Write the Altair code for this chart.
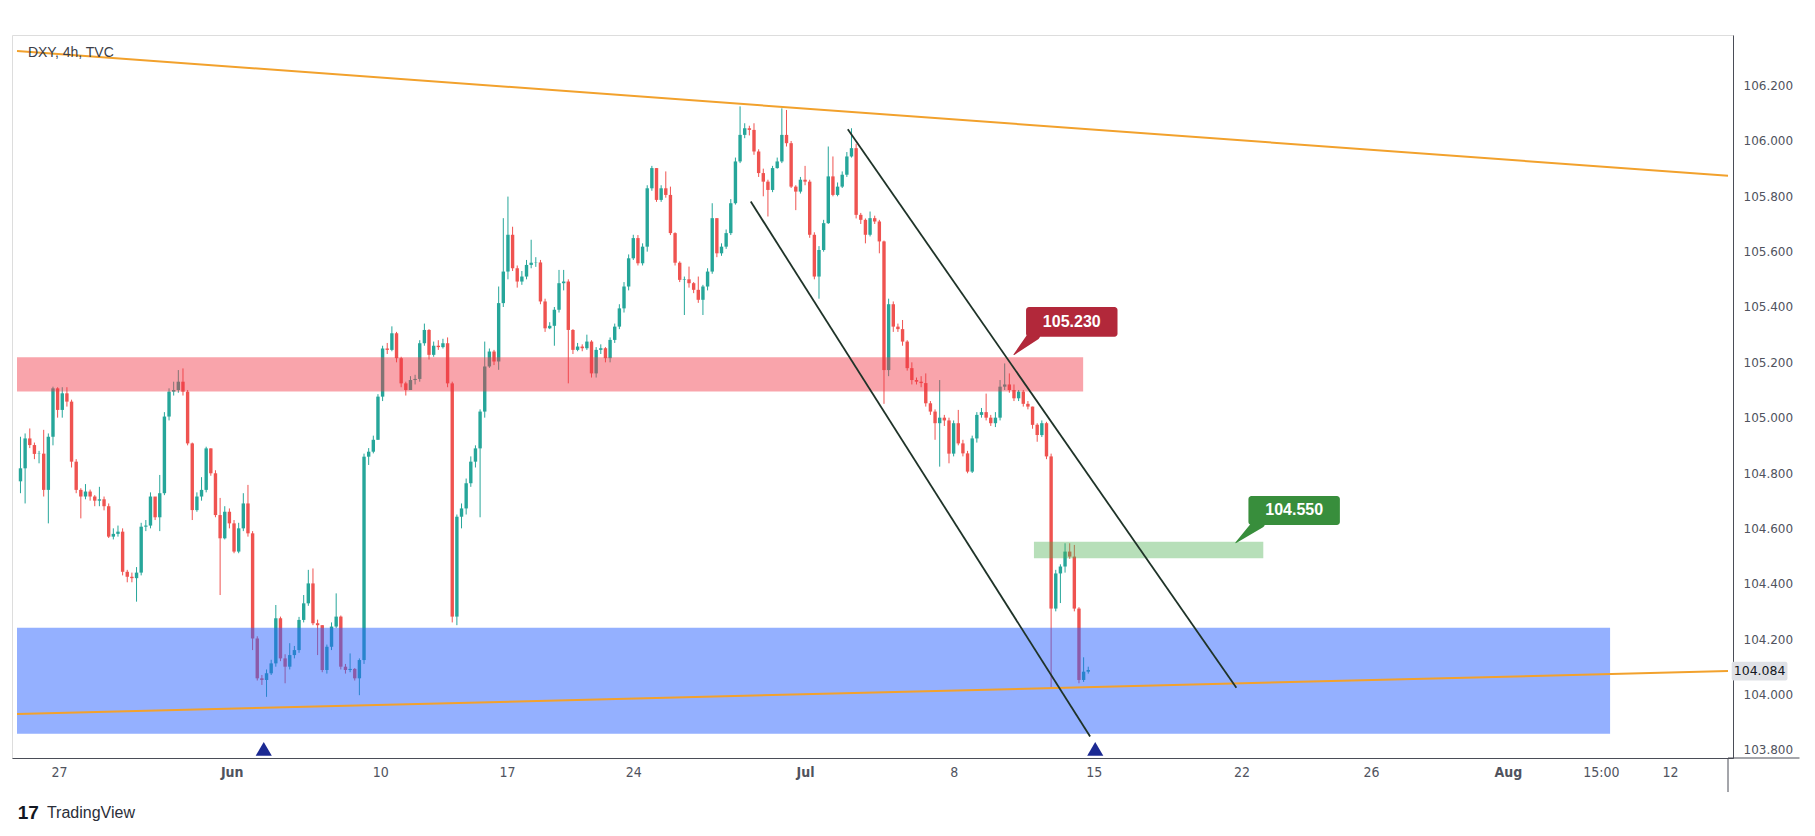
import altair as alt
import pandas as pd

# ---------------- data ----------------
FIRST_OPEN = 104.77

closes = [
    104.817, 104.925, 104.901, 104.869, 104.870, 104.739, 104.931, 105.106, 105.028, 105.088,
    105.058, 104.841, 104.739, 104.715, 104.733, 104.715, 104.700, 104.705, 104.680, 104.570,
    104.580, 104.588, 104.443, 104.425, 104.420, 104.440, 104.606, 104.610, 104.715, 104.640,
    104.727, 105.004, 105.094, 105.100, 105.130, 105.094, 104.907, 104.666, 104.715, 104.739,
    104.889, 104.799, 104.648, 104.564, 104.660, 104.618, 104.516, 104.600, 104.690, 104.582,
    104.202, 104.058, 104.052, 104.076, 104.112, 104.275, 104.130, 104.100, 104.142, 104.160,
    104.269, 104.329, 104.401, 104.257, 104.250, 104.088, 104.172, 104.245, 104.281, 104.100,
    104.088, 104.092, 104.058, 104.124, 104.859, 104.877, 104.920, 105.076, 105.250, 105.245,
    105.305, 105.215, 105.124, 105.100, 105.136, 105.140, 105.269, 105.317, 105.227, 105.260,
    105.255, 105.269, 105.124, 104.281, 104.642, 104.672, 104.763, 104.841, 104.889, 105.022,
    105.185, 105.239, 105.203, 105.414, 105.528, 105.661, 105.540, 105.492, 105.510, 105.552,
    105.560, 105.561, 105.420, 105.323, 105.332, 105.390, 105.486, 105.492, 105.317, 105.245,
    105.257, 105.251, 105.275, 105.160, 105.245, 105.251, 105.215, 105.281, 105.329, 105.395,
    105.474, 105.576, 105.649, 105.558, 105.618, 105.829, 105.902, 105.787, 105.829, 105.805,
    105.667, 105.560, 105.498, 105.500, 105.486, 105.462, 105.426, 105.474, 105.528, 105.721,
    105.594, 105.618, 105.667, 105.775, 105.926, 106.022, 106.046, 106.040, 105.962, 105.884,
    105.853, 105.823, 105.902, 105.926, 106.022, 105.992, 105.835, 105.817, 105.860, 105.853,
    105.661, 105.510, 105.606, 105.703, 105.872, 105.805, 105.835, 105.878, 105.944, 105.974,
    105.733, 105.715, 105.661, 105.721, 105.709, 105.637, 105.172, 105.410, 105.329, 105.320,
    105.275, 105.179, 105.136, 105.130, 105.125, 105.052, 105.022, 104.980, 105.000, 104.990,
    104.870, 104.980, 104.907, 104.871, 104.805, 104.925, 105.010, 105.020, 105.000, 104.980,
    105.000, 105.112, 105.120, 105.100, 105.070, 105.094, 105.050, 105.040, 104.974, 104.937,
    104.980, 104.860, 104.310, 104.437, 104.462, 104.516, 104.498, 104.310, 104.052, 104.082,
    104.088,
]

highs = [
    104.931, 104.943, 104.961, 104.910, 104.880, 104.956, 104.943, 105.112, 105.110, 105.110,
    105.110, 105.065, 104.850, 104.745, 104.760, 104.740, 104.720, 104.750, 104.715, 104.690,
    104.600, 104.610, 104.600, 104.450, 104.440, 104.460, 104.620, 104.630, 104.730, 104.710,
    104.793, 105.020, 105.106, 105.130, 105.172, 105.178, 105.100, 104.910, 104.730, 104.785,
    104.895, 104.889, 104.810, 104.710, 104.680, 104.672, 104.630, 104.620, 104.727, 104.757,
    104.590, 104.210, 104.070, 104.090, 104.125, 104.323, 104.281, 104.145, 104.185, 104.175,
    104.280, 104.359, 104.450, 104.455, 104.270, 104.250, 104.180, 104.260, 104.365, 104.285,
    104.110, 104.148, 104.095, 104.130, 104.870, 104.890, 104.935, 105.085, 105.260, 105.270,
    105.330, 105.310, 105.220, 105.130, 105.150, 105.155, 105.280, 105.340, 105.320, 105.275,
    105.280, 105.285, 105.290, 105.130, 104.650, 104.690, 104.780, 104.860, 104.900, 105.030,
    105.275, 105.250, 105.245, 105.474, 105.721, 105.799, 105.690, 105.550, 105.530, 105.570,
    105.643, 105.580, 105.570, 105.430, 105.345, 105.400, 105.534, 105.534, 105.500, 105.320,
    105.270, 105.265, 105.300, 105.280, 105.255, 105.265, 105.255, 105.290, 105.340, 105.410,
    105.490, 105.590, 105.661, 105.660, 105.630, 105.840, 105.910, 105.902, 105.840, 105.890,
    105.835, 105.670, 105.565, 105.510, 105.546, 105.490, 105.510, 105.480, 105.540, 105.775,
    105.721, 105.630, 105.680, 105.790, 105.940, 106.125, 106.064, 106.055, 106.064, 105.970,
    105.900, 105.860, 105.910, 105.940, 106.118, 106.112, 106.000, 105.840, 105.870, 105.910,
    105.860, 105.670, 105.620, 105.715, 105.980, 105.944, 105.850, 105.890, 105.960, 106.046,
    105.990, 105.740, 105.720, 105.745, 105.730, 105.715, 105.640, 105.430, 105.420, 105.340,
    105.353, 105.280, 105.200, 105.145, 105.150, 105.160, 105.060, 105.030, 105.136, 105.010,
    105.000, 104.990, 105.028, 104.920, 104.880, 104.935, 105.020, 105.035, 105.087, 105.010,
    105.020, 105.136, 105.196, 105.160, 105.120, 105.100, 105.100, 105.060, 105.040, 104.980,
    104.990, 104.985, 104.870, 104.450, 104.470, 104.546, 104.546, 104.540, 104.315, 104.134,
    104.100,
]

lows = [
    104.727, 104.690, 104.890, 104.850, 104.835, 104.715, 104.618, 104.900, 105.000, 105.000,
    105.040, 104.820, 104.727, 104.636, 104.705, 104.700, 104.680, 104.680, 104.665, 104.565,
    104.560, 104.570, 104.430, 104.405, 104.405, 104.335, 104.430, 104.590, 104.600, 104.630,
    104.590, 104.720, 104.990, 105.080, 105.090, 105.080, 104.900, 104.630, 104.660, 104.700,
    104.730, 104.790, 104.640, 104.359, 104.560, 104.600, 104.510, 104.510, 104.590, 104.570,
    104.160, 104.050, 104.034, 103.991, 104.070, 104.100, 104.120, 104.040, 104.090, 104.130,
    104.150, 104.260, 104.320, 104.250, 104.142, 104.080, 104.075, 104.160, 104.240, 104.090,
    104.075, 104.080, 104.050, 103.997, 104.110, 104.829, 104.871, 104.920, 105.060, 105.230,
    105.240, 105.200, 105.110, 105.080, 105.100, 105.120, 105.130, 105.260, 105.210, 105.220,
    105.245, 105.250, 105.110, 104.260, 104.250, 104.600, 104.650, 104.750, 104.820, 104.640,
    105.000, 105.180, 105.190, 105.173, 105.400, 105.500, 105.530, 105.470, 105.480, 105.500,
    105.540, 105.545, 105.410, 105.310, 105.320, 105.260, 105.380, 105.460, 105.124, 105.230,
    105.240, 105.240, 105.245, 105.145, 105.145, 105.230, 105.200, 105.200, 105.270, 105.320,
    105.380, 105.460, 105.570, 105.550, 105.550, 105.600, 105.820, 105.780, 105.780, 105.795,
    105.660, 105.550, 105.490, 105.371, 105.470, 105.450, 105.415, 105.371, 105.460, 105.520,
    105.580, 105.585, 105.610, 105.660, 105.770, 105.920, 106.010, 106.020, 105.950, 105.870,
    105.800, 105.727, 105.815, 105.900, 105.920, 105.980, 105.830, 105.750, 105.810, 105.840,
    105.650, 105.500, 105.430, 105.600, 105.700, 105.800, 105.800, 105.830, 105.870, 105.940,
    105.720, 105.700, 105.630, 105.655, 105.700, 105.594, 105.050, 105.150, 105.310, 105.310,
    105.260, 105.170, 105.120, 105.120, 105.110, 105.040, 105.010, 104.920, 104.823, 104.970,
    104.835, 104.860, 104.900, 104.860, 104.799, 104.800, 104.910, 105.000, 104.990, 104.970,
    104.966, 104.990, 105.100, 105.090, 105.060, 105.060, 105.040, 105.030, 104.960, 104.913,
    104.930, 104.850, 104.022, 104.300, 104.330, 104.440, 104.490, 104.300, 104.040, 104.045,
    104.075,
]

# x axis (bar index positions of the date labels)
x_ticks = [8.3, 45.5, 77.5, 104.8, 132.0, 169.0, 201.0, 231.2, 263.0, 290.9, 320.4, 340.4, 355.3]
x_tick_labels = ["27", "Jun", "10", "17", "24", "Jul", "8", "15", "22", "26", "Aug", "15:00", "12"]
month_ticks = [45.5, 169.0, 320.4]

# y axis
y_ticks = [103.8, 104.0, 104.2, 104.4, 104.6, 104.8, 105.0, 105.2, 105.4, 105.6, 105.8, 106.0, 106.2]

# zones
zone_names = ["resistance", "mid", "support"]
zone_x_start = [-0.75, 218.3, -0.75]
zone_x_end = [228.9, 267.7, 342.4]
zone_low = [105.095, 104.492, 103.858]
zone_high = [105.218, 104.552, 104.241]

# trend lines
line_names = ["upper", "lower", "chan_low", "chan_high"]
line_x_start = [-0.75, -0.75, 157.3, 178.2]
line_y_start = [106.325, 103.929, 105.781, 106.042]
line_x_end = [367.8, 367.8, 230.4, 261.9]
line_y_end = [105.874, 104.084, 103.848, 104.024]

# markers
marker_x = [52.4, 231.5]
marker_y = [103.803, 103.803]

# callouts
callout_text = ["105.230", "104.550"]
callout_x0 = [216.6, 264.5]
callout_x1 = [236.3, 284.2]
callout_y0 = [105.292, 104.612]
callout_y1 = [105.400, 104.717]
tail_base_x = [218.4, 266.8]
tail_base_y = [105.300, 104.620]
tail_tip_x = [214.0, 261.8]
tail_tip_y = [105.228, 104.548]

last_price = 104.084
title_text = "DXY, 4h, TVC"

# ---------------- styling ----------------
UP = "#26a69a"
DOWN = "#ef5350"
AXIS_COL = "#4a4d57"
LABEL_COL = "#50535e"
X_DOMAIN = [-0.75, 367.8]
Y_DOMAIN = [103.770, 106.383]

XS = alt.Scale(domain=X_DOMAIN, nice=False, zero=False)
YS = alt.Scale(domain=Y_DOMAIN, nice=False, zero=False)

label_expr = "[" + ",".join(f"'{t}'" for t in x_tick_labels) + "][indexof([" + \
    ",".join(str(v) for v in x_ticks) + "], datum.value)]"
month_test = " || ".join(f"datum.value == {v}" for v in month_ticks)

XA = alt.Axis(values=x_ticks, labelExpr=label_expr, ticks=False, grid=False,
              domainColor=AXIS_COL, domainWidth=1, labelColor=LABEL_COL,
              labelFont="Liberation Sans Narrow, DejaVu Sans Condensed, Liberation Sans",
              labelFontSize=14, labelPadding=7, title=None, labelOverlap=False,
              labelFlush=False,
              labelFontWeight={"condition": {"test": month_test, "value": "bold"}, "value": "normal"})
YA = alt.Axis(orient="right", values=y_ticks, format=".3f", ticks=False, grid=False,
              domainColor=AXIS_COL, domainWidth=1, labelColor=LABEL_COL,
              labelFont="DejaVu Sans", labelFontSize=12, labelPadding=10, title=None,
              labelOverlap=False, labelFlush=False)


def X(f):
    return alt.X(f, type="quantitative", scale=XS, axis=XA)


def Y(f):
    return alt.Y(f, type="quantitative", scale=YS, axis=YA)


opens = [FIRST_OPEN] + closes[:-1]
candles = pd.DataFrame({"i": list(range(len(closes))), "open": opens, "close": closes,
                        "high": highs, "low": lows})
cond_color = alt.condition(alt.datum.close >= alt.datum.open, alt.value(UP), alt.value(DOWN))

wicks = alt.Chart(candles).mark_rule(strokeWidth=1).encode(
    x=X("i"), y=Y("low"), y2="high", color=cond_color)
bodies = alt.Chart(candles).mark_bar(size=3.4).encode(
    x=X("i"), y=Y("open"), y2="close", color=cond_color)

zones = pd.DataFrame({"name": zone_names, "x0": zone_x_start, "x1": zone_x_end,
                      "y0": zone_low, "y1": zone_high})
zone_style = {"resistance": ("#f23645", 0.45), "mid": ("#4caf50", 0.4), "support": ("#2962ff", 0.5)}
zone_layers = []
for nm in zone_names:
    col, op = zone_style[nm]
    zone_layers.append(
        alt.Chart(zones).transform_filter(alt.datum.name == nm)
        .mark_rect(color=col, opacity=op)
        .encode(x=X("x0"), x2="x1", y=Y("y0"), y2="y1"))

lines = pd.DataFrame({"name": line_names, "x0": line_x_start, "y0": line_y_start,
                      "x1": line_x_end, "y1": line_y_end})
orange = alt.Chart(lines).transform_filter("datum.name == 'upper' || datum.name == 'lower'") \
    .mark_rule(color="#f2a12c", strokeWidth=2).encode(x=X("x0"), y=Y("y0"), x2="x1", y2="y1")
channel = alt.Chart(lines).transform_filter("datum.name == 'chan_low' || datum.name == 'chan_high'") \
    .mark_rule(color="#1f3328", strokeWidth=1.8).encode(x=X("x0"), y=Y("y0"), x2="x1", y2="y1")

markers = alt.Chart(pd.DataFrame({"x": marker_x, "y": marker_y})).mark_point(
    shape="triangle-up", filled=True, color="#1c2a93", opacity=1, size=260, clip=False
).encode(x=X("x"), y=Y("y"))

callout_colors = ["#b2283a", "#388e3c"]
callouts = pd.DataFrame({"text": callout_text, "x0": callout_x0, "x1": callout_x1,
                         "y0": callout_y0, "y1": callout_y1,
                         "xc": [(a + b) / 2 for a, b in zip(callout_x0, callout_x1)],
                         "yc": [(a + b) / 2 for a, b in zip(callout_y0, callout_y1)]})
callout_layers = []
for k, t in enumerate(callout_text):
    tail = pd.DataFrame({"x": [tail_base_x[k], tail_tip_x[k]], "y": [tail_base_y[k], tail_tip_y[k]],
                         "w": [12, 1], "k": [0, 1]})
    callout_layers.append(
        alt.Chart(tail).mark_trail(color=callout_colors[k]).encode(
            x=X("x"), y=Y("y"), order="k:Q",
            size=alt.Size("w:Q", scale=alt.Scale(domain=[0, 20], range=[0, 20]), legend=None)))
    sub = callouts[callouts.text == t]
    callout_layers.append(
        alt.Chart(sub).mark_rect(color=callout_colors[k], cornerRadius=3).encode(
            x=X("x0"), x2="x1", y=Y("y0"), y2="y1"))
    callout_layers.append(
        alt.Chart(sub).mark_text(color="white", font="Liberation Sans", fontWeight="bold",
                                 fontSize=16, align="center", baseline="middle").encode(
            x=X("xc"), y=Y("yc"), text="text:N"))

title_layer = alt.Chart(pd.DataFrame({"x": [1.6], "y": [106.318], "t": [title_text]})).mark_text(
    align="left", baseline="middle", font="Liberation Sans", fontSize=14, color="#3b3e48"
).encode(x=X("x"), y=Y("y"), text="t:N")

tag = pd.DataFrame({"x0": [368.6], "x1": [380.6], "y0": [last_price - 0.034], "y1": [last_price + 0.034],
                    "xc": [374.6], "y": [last_price], "t": [f"{last_price:.3f}"]})
tag_rect = alt.Chart(tag).mark_rect(color="#dfe1e6", cornerRadius=2, clip=False).encode(
    x=X("x0"), x2="x1", y=Y("y0"), y2="y1")
tag_text = alt.Chart(tag).mark_text(font="DejaVu Sans", fontSize=12.5, color="#131722",
                                    align="center", baseline="middle").encode(
    x=X("xc"), y=Y("y"), text="t:N")

ext = pd.DataFrame({"x0": [367.8, 367.8], "x1": [383.2, 367.8], "y0": [103.770, 103.770],
                    "y1": [103.770, 103.647]})
ext_rules = alt.Chart(ext).mark_rule(color=AXIS_COL, strokeWidth=1, clip=False).encode(
    x=X("x0"), x2="x1", y=Y("y0"), y2="y1")

logo = pd.DataFrame({"x": [-0.6, 5.7], "y": [103.573, 103.573], "t": ["17", "TradingView"]})
logo_mark = alt.Chart(logo).transform_filter("datum.t == '17'").mark_text(
    align="left", baseline="middle", font="Liberation Sans", fontWeight=900, fontSize=19,
    color="#131722").encode(x=X("x"), y=Y("y"), text="t:N")
logo_text = alt.Chart(logo).transform_filter("datum.t == 'TradingView'").mark_text(
    align="left", baseline="middle", font="Liberation Sans", fontSize=16,
    color="#2a2e39").encode(x=X("x"), y=Y("y"), text="t:N")

chart = alt.layer(
    wicks, bodies, *zone_layers, orange, channel, markers, *callout_layers,
    title_layer, tag_rect, tag_text, ext_rules, logo_mark, logo_text
).properties(
    width=1721, height=723,
    padding={"left": 12, "top": 35, "right": 82, "bottom": 78},
    autosize=alt.AutoSizeParams(type="none"),
).configure_view(fill="#f9f9fb", stroke="#e3e5ea").configure(background="white")

chart.save("out.html", embed_options={"renderer": "svg", "actions": False})
